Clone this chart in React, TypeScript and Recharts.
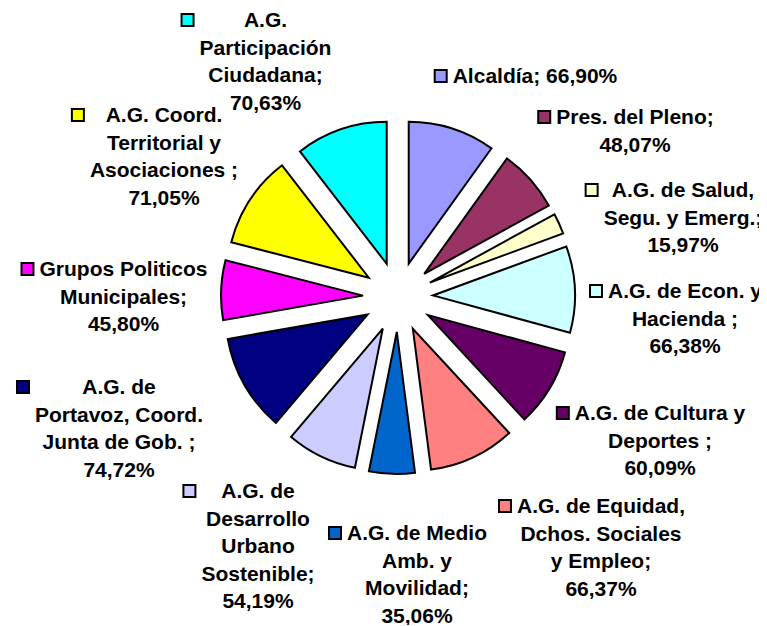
import React from "react";
import { PieChart, Pie, Cell, Sector } from "recharts";

// ---- data ----
const CATEGORIES = [
  "Alcaldía",
  "Pres. del Pleno",
  "A.G. de Salud,\nSegu. y Emerg.",
  "A.G. de Econ. y\nHacienda ",
  "A.G. de Cultura y\nDeportes ",
  "A.G. de Equidad,\nDchos. Sociales\ny Empleo",
  "A.G. de Medio\nAmb. y\nMovilidad",
  "A.G. de\nDesarrollo\nUrbano\nSostenible",
  "A.G. de\nPortavoz, Coord.\nJunta de Gob. ",
  "Grupos Politicos\nMunicipales",
  "A.G. Coord.\nTerritorial y\nAsociaciones ",
  "A.G.\nParticipación\nCiudadana",
];
const VALUES = [66.9, 48.07, 15.97, 66.38, 60.09, 66.37, 35.06, 54.19, 74.72, 45.8, 71.05, 70.63];
// separator between name and value in each label (space = same line)
const LABEL_SEP = [" ", "\n", "\n", "\n", "\n", "\n", "\n", "\n", "\n", "\n", "\n", "\n"];

// ---- styles / layout ----
const COLORS = [
  "#9999FF", "#993366", "#FFFFCC", "#CCFFFF", "#660066", "#FF8080",
  "#0066CC", "#CCCCFF", "#000080", "#FF00FF", "#FFFF00", "#00FFFF",
];
// label text-column centre and first baseline, relative to the pie centre
const LABEL_POS: [number, number][] = [
  [137, -214], [237, -173], [285, -100], [287, 1], [262, 123], [203, 216],
  [19, 243], [-140, 201], [-279, 97], [-274.5, -21], [-234, -175], [-132.5, -270],
];
const EXPLODE = 35;
const FONT = "'Liberation Sans', Arial, Helvetica, sans-serif";
const FONT_SIZE = 21;
const LINE_H = 27.5;
const RAD = Math.PI / 180;

const data = CATEGORIES.map((name, i) => ({ name, value: VALUES[i] }));
const pct = (v: number) => v.toFixed(2).replace(".", ",") + "%";

let ctx: CanvasRenderingContext2D | null = null;
const measure = (s: string) => {
  if (!ctx) {
    ctx = document.createElement("canvas").getContext("2d");
  }
  if (!ctx) return s.length * FONT_SIZE * 0.6;
  ctx.font = `bold ${FONT_SIZE}px ${FONT}`;
  return ctx.measureText(s).width;
};

const ExplodedSector = (props: any) => {
  const { cx, cy, midAngle } = props;
  const dx = EXPLODE * Math.cos(midAngle * RAD);
  const dy = -EXPLODE * Math.sin(midAngle * RAD);
  return (
    <Sector
      cx={cx + dx}
      cy={cy + dy}
      innerRadius={props.innerRadius}
      outerRadius={props.outerRadius}
      startAngle={props.startAngle}
      endAngle={props.endAngle}
      fill={props.fill}
      stroke="#000"
      strokeWidth={2}
    />
  );
};

const renderLabel = (props: any) => {
  const { cx, cy, index } = props;
  const lines = (CATEGORIES[index] + ";" + LABEL_SEP[index] + pct(VALUES[index])).split("\n");
  const [ox, oy] = LABEL_POS[index];
  const x = cx + ox;
  const y = cy + oy;
  const maxW = Math.max(...lines.map(measure));
  const left = x - maxW / 2;
  return (
    <g key={`lbl-${index}`}>
      <rect x={left - 18} y={y - 13} width={12} height={12} fill={COLORS[index]} stroke="#000" strokeWidth={2} />
      <text textAnchor="middle" fontFamily={FONT} fontWeight="bold" fontSize={FONT_SIZE} fill="#000">
        {lines.map((l, k) => (
          <tspan key={k} x={x} y={y + k * LINE_H}>
            {l}
          </tspan>
        ))}
      </text>
    </g>
  );
};

export default function App() {
  return (
    <div style={{ width: 758, height: 617 }}>
      <PieChart width={758} height={617} style={{ overflow: "visible" }}>
        <Pie
          data={data}
          dataKey="value"
          nameKey="name"
          cx={385}
          cy={284}
          outerRadius={142}
          startAngle={90}
          endAngle={-270}
          stroke="#000"
          strokeWidth={2}
          isAnimationActive={false}
          label={renderLabel}
          labelLine={false}
          shape={ExplodedSector}
        >
          {data.map((d, i) => (
            <Cell key={d.name} fill={COLORS[i]} />
          ))}
        </Pie>
      </PieChart>
    </div>
  );
}
